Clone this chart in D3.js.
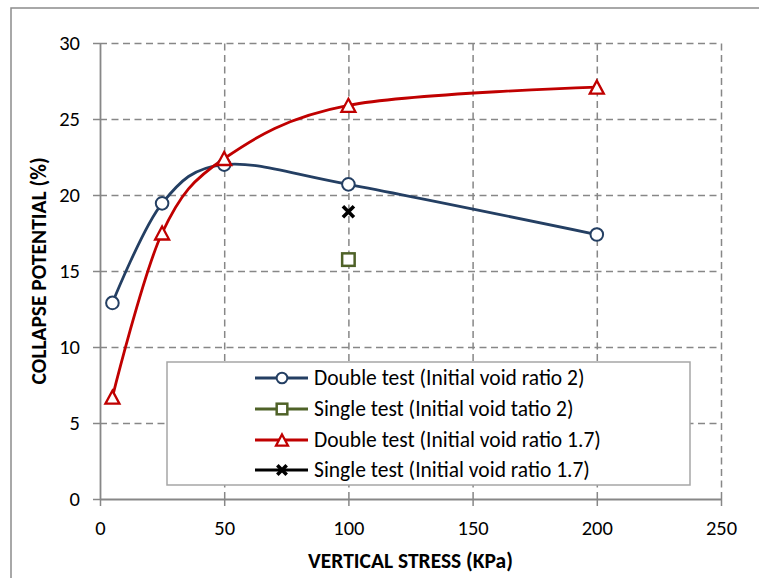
<!DOCTYPE html>
<html>
<head>
<meta charset="utf-8">
<script src="https://cdn.jsdelivr.net/npm/d3@7"></script>
<style>
  body { margin: 0; background: #fff; }
  text { font-family: Calibri, Carlito, "Liberation Sans", Arial, sans-serif; fill: #000; }
</style>
</head>
<body>
<div id="chart"></div>
<script>
// data
var stress = [5, 25, 50, 100, 200];
var doubleVoid2 = [12.9, 19.45, 22.0, 20.7, 17.4];
var doubleVoid17 = [6.7, 17.5, 22.4, 25.9, 27.1];
var singleStress = [100];
var singleVoid2 = [15.75];
var singleVoid17 = [18.9];
var xTicks = [0, 50, 100, 150, 200, 250];
var yTicks = [0, 5, 10, 15, 20, 25, 30];

var legendLabels = [
  "Double test (Initial void ratio 2)",
  "Single test (Initial void tatio 2)",
  "Double test (Initial void ratio 1.7)",
  "Single test (Initial void ratio 1.7)"
];

// set the dimensions and margins of the graph
var W = 759, H = 578;
var margin = {top: 43, left: 100},
    width = 621,
    height = 456;

var grey = "#878787";

var svg = d3.select("#chart").append("svg")
    .attr("width", W)
    .attr("height", H);

// outer chart border (right and bottom fall outside the picture)
svg.append("rect")
    .attr("x", 11).attr("y", 8)
    .attr("width", W + 20).attr("height", H + 20)
    .attr("fill", "none")
    .attr("stroke", "#8c8c8c")
    .attr("stroke-width", 1.5);

var g = svg.append("g")
    .attr("transform", "translate(" + margin.left + "," + margin.top + ")");

// set the ranges
var x = d3.scaleLinear().domain([0, 250]).range([0, width]);
var y = d3.scaleLinear().domain([0, 30]).range([height, 0]);

// gridlines
g.append("g")
    .attr("class", "grid")
    .call(d3.axisLeft(y).tickValues(yTicks.slice(1)).tickSize(-width).tickFormat(""))
    .call(function(s) { s.select(".domain").remove(); });
g.append("g")
    .attr("class", "grid")
    .attr("transform", "translate(0," + height + ")")
    .call(d3.axisBottom(x).tickValues(xTicks.slice(1)).tickSize(-height).tickFormat(""))
    .call(function(s) { s.select(".domain").remove(); });
g.selectAll(".grid line")
    .attr("stroke", grey)
    .attr("stroke-width", 1.5)
    .attr("stroke-dasharray", "7,4.5");

// add the x Axis
var xAxis = g.append("g")
    .attr("transform", "translate(0," + height + ")")
    .call(d3.axisBottom(x).tickValues(xTicks).tickSize(7).tickSizeOuter(0).tickPadding(14));
// add the y Axis
var yAxis = g.append("g")
    .call(d3.axisLeft(y).tickValues(yTicks).tickSize(7).tickSizeOuter(0).tickPadding(13));

[xAxis, yAxis].forEach(function(a) {
  a.select(".domain").attr("stroke", grey).attr("stroke-width", 1.8);
  a.selectAll(".tick line").attr("stroke", grey).attr("stroke-width", 1.5);
  a.selectAll(".tick text")
      .style("font-family", "Calibri, Carlito, 'Liberation Sans', Arial, sans-serif")
      .style("font-size", "20.5px")
      .attr("fill", "#000");
});
yAxis.selectAll(".tick text").attr("dy", "0.34em");

// curves
var line = d3.line()
    .x(function(d) { return x(d[0]); })
    .y(function(d) { return y(d[1]); })
    .curve(d3.curveCatmullRom.alpha(0));

function pairs(xs, ys) { return xs.map(function(v, i) { return [v, ys[i]]; }); }

var series = [
  {name: legendLabels[0], color: "#243F63", marker: "circle", data: pairs(stress, doubleVoid2)},
  {name: legendLabels[1], color: "#4F6228", marker: "square", data: pairs(singleStress, singleVoid2)},
  {name: legendLabels[2], color: "#C00000", marker: "triangle", data: pairs(stress, doubleVoid17)},
  {name: legendLabels[3], color: "#000000", marker: "cross", data: pairs(singleStress, singleVoid17)}
];

function drawMarker(sel, type, color, s) {
  if (type === "circle") {
    sel.append("circle").attr("r", 6.3 * s)
        .attr("fill", "#fff").attr("stroke", color).attr("stroke-width", 2);
  } else if (type === "square") {
    var a = 12.5 * s;
    sel.append("rect").attr("x", -a / 2).attr("y", -a / 2).attr("width", a).attr("height", a)
        .attr("fill", "#fff").attr("stroke", color).attr("stroke-width", 2.5);
  } else if (type === "triangle") {
    var w = 7 * s, h = 6.5 * s;
    sel.append("path").attr("d", "M0," + (-h) + "L" + w + "," + h + "L" + (-w) + "," + h + "Z")
        .attr("fill", "#fff").attr("stroke", color).attr("stroke-width", 2.3)
        .attr("stroke-linejoin", "miter");
  } else if (type === "cross") {
    var c = 5.5 * s;
    sel.append("path").attr("d", "M" + (-c) + "," + (-c) + "L" + c + "," + c + "M" + c + "," + (-c) + "L" + (-c) + "," + c)
        .attr("stroke", color).attr("stroke-width", 3.6);
  }
}

series.forEach(function(sr) {
  if (sr.data.length > 1) {
    g.append("path")
        .datum(sr.data)
        .attr("fill", "none")
        .attr("stroke", sr.color)
        .attr("stroke-width", 2.8)
        .attr("d", line);
  }
});
series.forEach(function(sr) {
  g.selectAll(null)
      .data(sr.data)
      .enter().append("g")
      .attr("transform", function(d) { return "translate(" + x(d[0]) + "," + y(d[1]) + ")"; })
      .each(function() { drawMarker(d3.select(this), sr.marker, sr.color, 1); });
});

// legend
var legend = svg.append("g");
legend.append("rect")
    .attr("x", 167).attr("y", 362)
    .attr("width", 523).attr("height", 123)
    .attr("fill", "#fff")
    .attr("stroke", "#a6a6a6")
    .attr("stroke-width", 1.5);
var rowY = [378, 409, 440, 470];
series.forEach(function(sr, i) {
  var row = legend.append("g").attr("transform", "translate(0," + rowY[i] + ")");
  row.append("line")
      .attr("x1", 255).attr("x2", 308)
      .attr("stroke", sr.color).attr("stroke-width", 2.8);
  drawMarker(row.append("g").attr("transform", "translate(282,0)"), sr.marker, sr.color, 0.85);
  row.append("text")
      .attr("x", 314).attr("dy", "0.33em")
      .style("font-size", "21.5px")
      .text(sr.name);
});

//Y-Axis Label
svg.append("text")
    .attr("transform", "translate(39," + (margin.top + height / 2) + ") rotate(-90)")
    .attr("dy", "0.33em")
    .style("text-anchor", "middle")
    .style("font-size", "21.5px")
    .style("font-weight", "bold")
    .text("COLLAPSE POTENTIAL (%)");

//X-Axis Label
svg.append("text")
    .attr("x", margin.left + width / 2)
    .attr("y", 561)
    .attr("dy", "0.33em")
    .style("text-anchor", "middle")
    .style("font-size", "21.5px")
    .style("font-weight", "bold")
    .text("VERTICAL STRESS (KPa)");
</script>
</body>
</html>
